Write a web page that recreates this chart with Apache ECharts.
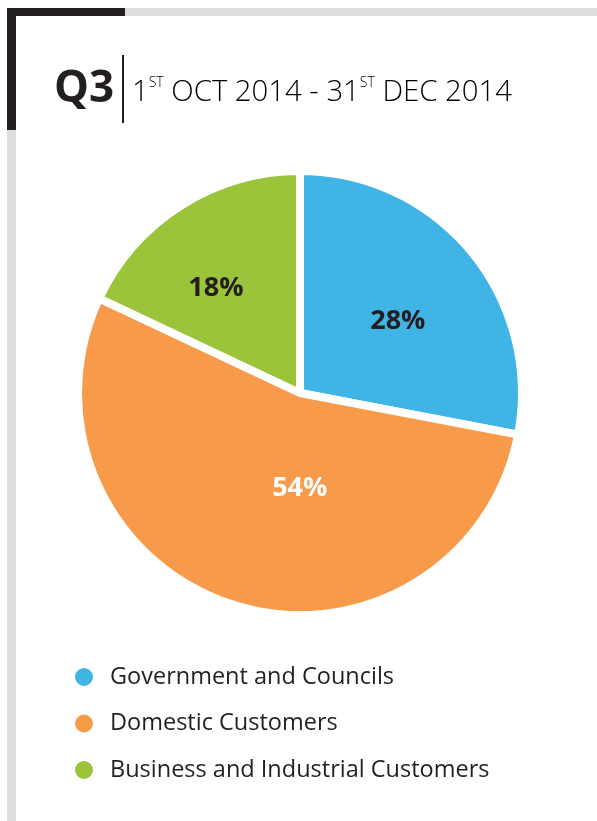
<!DOCTYPE html>
<html>
<head>
<meta charset="utf-8">
<script src="https://cdn.jsdelivr.net/npm/echarts@6/dist/echarts.min.js"></script>
<style>
html,body{margin:0;padding:0;background:#fff;}
#chart{width:597px;height:821px;}
</style>
</head>
<body>
<div id="chart"></div>
<script>
const categories = ['Government and Councils', 'Domestic Customers', 'Business and Industrial Customers'];
const values = [28, 54, 18];
const colors = ['#40b4e5', '#f79b4b', '#9cc43b'];
const labelColors = ['#231f20', '#ffffff', '#231f20'];
const labelOffsets = [[10, 1], [35, -13], [-23, -8]];

const chart = echarts.init(document.getElementById('chart'));
const FONT = '"Open Sans", sans-serif';

chart.setOption({
  animation: false,
  backgroundColor: '#ffffff',
  graphic: [
    { type: 'rect', shape: { x: 7, y: 8, width: 590, height: 8 }, style: { fill: '#dcdddf' } },
    { type: 'rect', shape: { x: 7, y: 8, width: 9, height: 813 }, style: { fill: '#dcdddf' } },
    { type: 'rect', shape: { x: 7, y: 8, width: 118, height: 8 }, style: { fill: '#231f20' } },
    { type: 'rect', shape: { x: 7, y: 8, width: 9, height: 122 }, style: { fill: '#231f20' } },
    { type: 'rect', shape: { x: 122, y: 55, width: 2, height: 68 }, style: { fill: '#231f20' } },
    { type: 'text', left: 54, top: 67, style: { text: 'Q3', font: 'bold 44px ' + FONT, fill: '#231f20' } },
    { type: 'text', left: 132, top: 73, style: {
        text: '{d|1}{s|ST}{d| OCT 2014 - 31}{s|ST}{d| DEC 2014}',
        rich: {
          d: { fontFamily: FONT, fontSize: 29.3, fontWeight: 300, color: '#77787b', lineHeight: 34, verticalAlign: 'bottom' },
          s: { fontFamily: FONT, fontSize: 14, fontWeight: 300, color: '#77787b', lineHeight: 34, verticalAlign: 'top', padding: [3, 0, 0, 0] }
        }
    } }
  ],
  legend: {
    orient: 'vertical',
    left: 73,
    top: 665,
    padding: 0,
    icon: 'circle',
    itemWidth: 20,
    itemHeight: 20,
    itemGap: 22.5,
    selectedMode: false,
    textStyle: { fontFamily: FONT, fontSize: 23.5, color: '#231f20', padding: [0, 0, 0, 11] },
    data: categories
  },
  series: [{
    type: 'pie',
    center: [300, 393],
    radius: [0, 222],
    startAngle: 90,
    clockwise: true,
    silent: true,
    itemStyle: { borderColor: '#ffffff', borderWidth: 8 },
    label: { show: true, position: 'inside', fontFamily: FONT, fontWeight: 'bold', fontSize: 27 },
    labelLine: { show: false },
    data: categories.map((c, i) => ({
      name: c,
      value: values[i],
      itemStyle: { color: colors[i] },
      label: { color: labelColors[i], offset: labelOffsets[i], formatter: values[i] + '%' }
    }))
  }]
});
</script>
</body>
</html>
